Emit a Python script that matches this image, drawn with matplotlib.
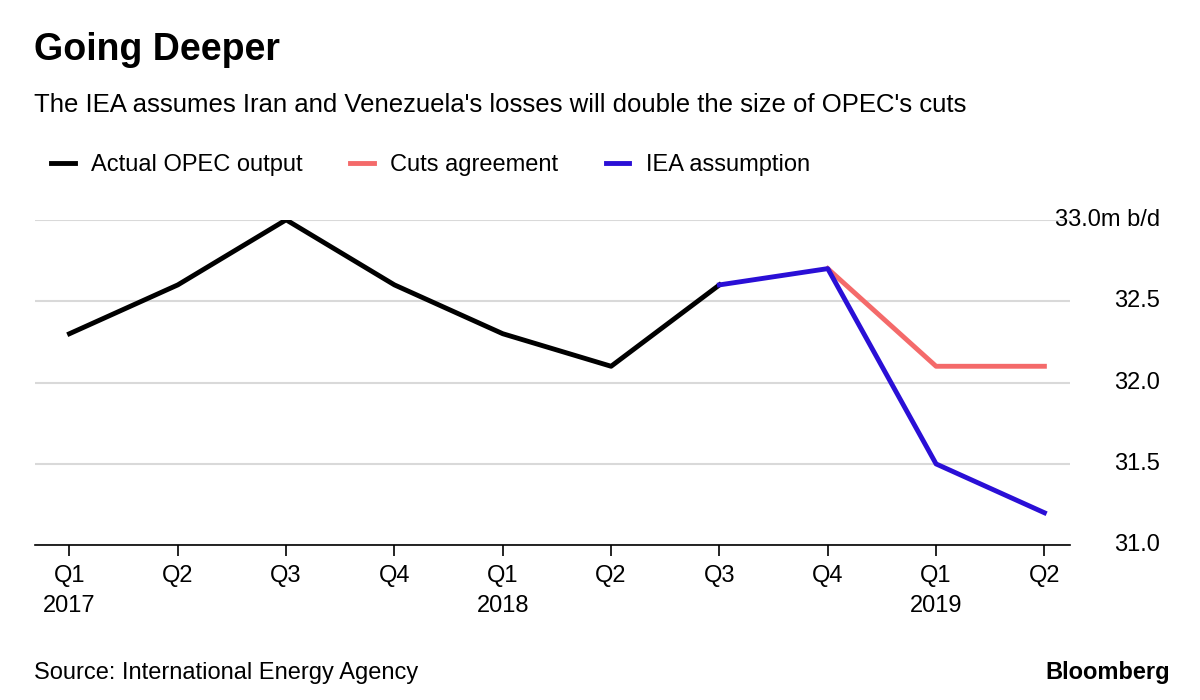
import matplotlib.pyplot as plt
from matplotlib.lines import Line2D

quarters = ["Q1\n2017", "Q2", "Q3", "Q4", "Q1\n2018", "Q2", "Q3", "Q4", "Q1\n2019", "Q2"]
actual = [32.3, 32.6, 33.0, 32.6, 32.3, 32.1, 32.6]
cuts = [32.7, 32.1, 32.1]
iea = [32.6, 32.7, 31.5, 31.2]
yticks = [31.0, 31.5, 32.0, 32.5, 33.0]
ytick_labels = ["31.0", "31.5", "32.0", "32.5", "33.0m b/d"]

plt.rcParams["font.family"] = ["Liberation Sans", "DejaVu Sans"]

fig = plt.figure(figsize=(12, 7), dpi=100)
ax = fig.add_axes([0.029, 0.221, 0.863, 0.465])

x = list(range(len(quarters)))
ax.plot(x[:7], actual, color="black", lw=3.5, zorder=3)
ax.plot(x[7:10], cuts, color="#f46a6a", lw=3.5, zorder=3)
ax.plot(x[6:10], iea, color="#2a0fd6", lw=3.5, zorder=4)

ax.set_xlim(-0.32, 9.24)
ax.set_ylim(31.0, 33.0)
ax.set_xticks(x)
ax.set_xticklabels(quarters, fontsize=17, linespacing=1.5)
ax.set_yticks(yticks)
ax.set_yticklabels([])
for v, lab in zip(yticks, ytick_labels):
    ax.text(9.24 + 0.83, v, lab, ha="right", va="center", fontsize=17, clip_on=False)
ax.grid(axis="y", color="#d9d9d9", lw=1.5)
ax.tick_params(axis="y", length=0)
ax.tick_params(axis="x", length=8, width=1.2, pad=6)
for s in ["top", "right", "left"]:
    ax.spines[s].set_visible(False)
ax.spines["bottom"].set_linewidth(1.2)
ax.set_axisbelow(True)

fig.text(0.028, 0.915, "Going Deeper", fontsize=27, fontweight="bold")
fig.text(0.028, 0.84, "The IEA assumes Iran and Venezuela's losses will double the size of OPEC's cuts", fontsize=18.5)

handles = [Line2D([0], [0], color=c, lw=3.5) for c in ["black", "#f46a6a", "#2a0fd6"]]
fig.legend(handles, ["Actual OPEC output", "Cuts agreement", "IEA assumption"],
           loc="upper left", bbox_to_anchor=(0.025, 0.81), ncol=3, frameon=False,
           fontsize=17, handlelength=1.0, columnspacing=2.0, handletextpad=0.7)

fig.text(0.028, 0.03, "Source: International Energy Agency", fontsize=17)
fig.text(0.975, 0.03, "Bloomberg", fontsize=17, fontweight="bold", ha="right")

fig.savefig("out.png")
